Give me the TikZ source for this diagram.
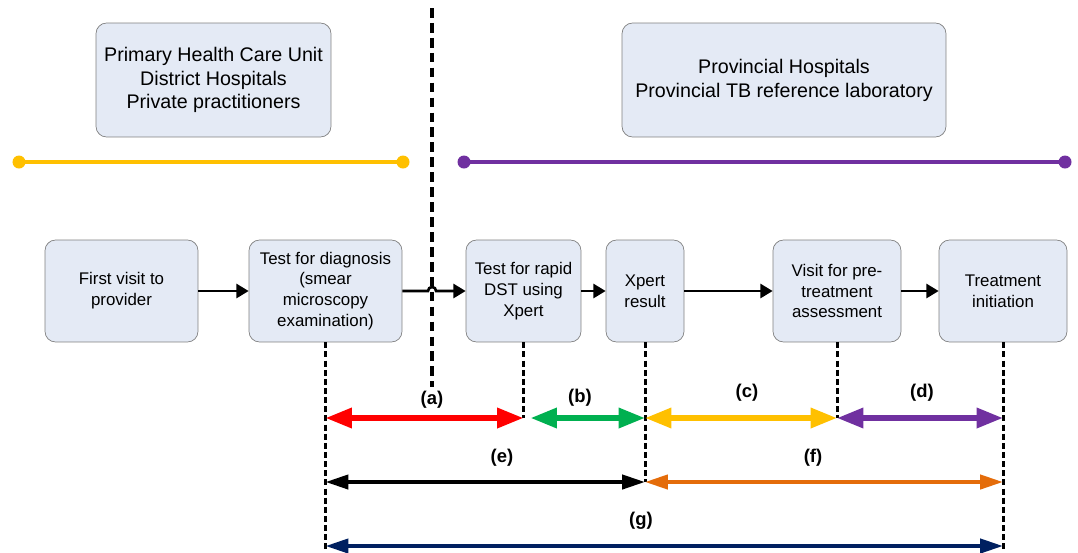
\documentclass[tikz,border=0pt]{standalone}
\usepackage{fontspec}
\setmainfont{Liberation Sans}
\usetikzlibrary{arrows.meta}
\definecolor{boxfill}{HTML}{E4EAF5}
\definecolor{boxline}{HTML}{808080}
\definecolor{tbyellow}{HTML}{FFC000}
\definecolor{tbpurple}{HTML}{7030A0}
\definecolor{tbred}{HTML}{FF0000}
\definecolor{tbgreen}{HTML}{00B050}
\definecolor{tborange}{HTML}{E46C0A}
\definecolor{tbnavy}{HTML}{002060}

\begin{document}
\begin{tikzpicture}[x=0.02cm, y=-0.02cm,
  box/.style={draw=boxline, fill=boxfill, rounded corners=6pt, align=center, inner sep=2pt, minimum height=2.04cm, font=\fontsize{9.6}{11.9}\selectfont},
  site/.style={box, minimum height=2.28cm, font=\fontsize{11.2}{13.6}\selectfont},
  flow/.style={line width=1.5pt, -{Triangle[length=7pt,width=8pt]}},
  guide/.style={line width=1.7pt, dash pattern=on 3.4pt off 1.8pt},
  span/.style={line width=3.1pt, {Triangle[length=15pt,width=11pt]}-{Triangle[length=15pt,width=11pt]}},
  total/.style={line width=2.2pt, {Triangle[length=13pt,width=8pt]}-{Triangle[length=13pt,width=8pt]}},
  lbl/.style={font=\fontsize{10.5}{12}\selectfont\bfseries}]
\useasboundingbox (0,0) rectangle (1078,552);

\node[site, minimum width=4.7cm] (prim) at (213.5,80) {Primary Health Care Unit\\District Hospitals\\Private practitioners};
\node[site, minimum width=6.48cm] (prov) at (784,80) {Provincial Hospitals\\Provincial TB reference laboratory};

\coordinate (y1) at (19,162);
\coordinate (y2) at (403,162);
\coordinate (p1) at (464,162);
\coordinate (p2) at (1065,162);
\draw[tbyellow, line width=2.8pt] (y1) -- (y2);
\fill[tbyellow] (y1) circle[radius=3.7pt] (y2) circle[radius=3.7pt];
\draw[tbpurple, line width=2.8pt] (p1) -- (p2);
\fill[tbpurple] (p1) circle[radius=3.7pt] (p2) circle[radius=3.7pt];

\node[box, minimum width=3.06cm] (first) at (121.5,291) {First visit to\\provider};
\node[box, minimum width=3.06cm] (diag) at (325.5,291) {Test for diagnosis\\(smear\\microscopy\\examination)};
\node[box, minimum width=2.3cm] (dst) at (523.5,291) {Test for rapid\\DST using\\Xpert};
\node[box, minimum width=1.56cm] (xres) at (645,291) {Xpert\\result};
\node[box, minimum width=2.56cm] (visit) at (837,291) {Visit for pre-\\treatment\\assessment};
\node[box, minimum width=2.56cm] (treat) at (1003,291) {Treatment\\initiation};

\coordinate (sepT) at (432,8);
\coordinate (sepB) at (432,387);
\coordinate (hop) at (428,291);
\draw[line width=2.8pt, dash pattern=on 5.5pt off 3pt] (sepT) -- (sepB);

\draw[flow] (first) -- (diag);
\draw[flow] (diag.east) -- (hop) arc[start angle=180, end angle=0, radius=2.3pt] -- (dst.west);
\draw[flow] (dst) -- (xres);
\draw[flow] (xres) -- (visit);
\draw[flow] (visit) -- (treat);

\coordinate (da) at (diag.south |- 0,418);
\coordinate (de) at (diag.south |- 0,482);
\coordinate (dg) at (diag.south |- 0,546);
\coordinate (sa) at (dst.south |- 0,418);
\coordinate (xa) at (xres.south |- 0,418);
\coordinate (xe) at (xres.south |- 0,482);
\coordinate (va) at (visit.south |- 0,418);
\coordinate (ta) at (treat.south |- 0,418);
\coordinate (tg) at (treat.south |- 0,546);
\coordinate (te) at (treat.south |- 0,482);

\draw[guide] (diag.south) -- (dg) -- ++(0,6);
\draw[guide] (dst.south) -- (sa);
\draw[guide] (xres.south) -- (xe);
\draw[guide] (visit.south) -- (va);
\draw[guide] (treat.south) -- (tg) -- ++(0,6);

\draw[span, tbred] (da) -- (sa);
\draw[span, tbgreen, shorten <=4pt] (sa) -- (xa);
\draw[span, tbyellow] (xa) -- (va);
\draw[span, tbpurple] (va) -- (ta);
\draw[total] (de) -- (xe);
\draw[total, tborange] (xe) -- (te);
\draw[total, tbnavy] (dg) -- (tg);

\node[lbl] (la) at (432,400) {(a)};
\node[lbl] (lb) at (580,398) {(b)};
\node[lbl] (lc) at (747,393) {(c)};
\node[lbl] (ld) at (922,393) {(d)};
\node[lbl] (le) at (502,458) {(e)};
\node[lbl] (lf) at (813,458) {(f)};
\node[lbl] (lg) at (641,521) {(g)};
\end{tikzpicture}
\end{document}
